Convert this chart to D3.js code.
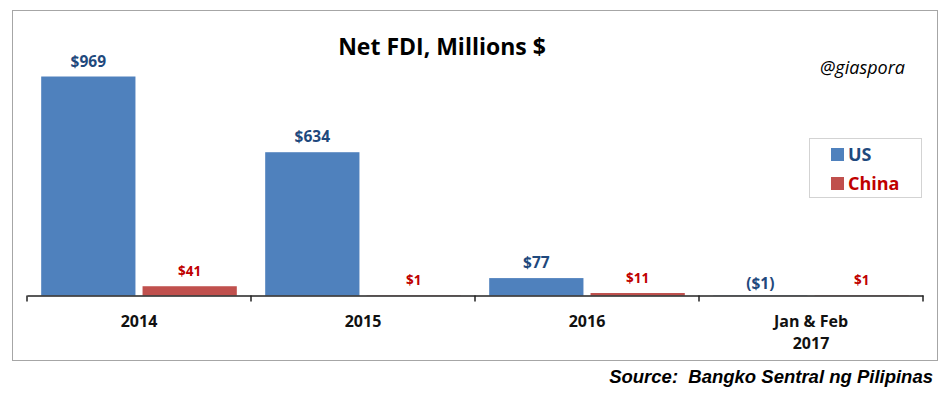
<!DOCTYPE html>
<html>
<head>
<meta charset="utf-8">
<script src="https://cdn.jsdelivr.net/npm/d3@7"></script>
<style>
  body { margin: 0; background: #fff; }
  svg { display: block; }
</style>
</head>
<body>
<svg width="945" height="394"></svg>
<script>
const categories = ["2014", "2015", "2016", "Jan & Feb\n2017"]
const seriesNames = ["US", "China"]
const usValues = [969, 634, 77, -1]
const chinaValues = [41, 1, 11, 1]

const colors = { US: "#4F81BD", China: "#C0504D" }
const labelColors = { US: "#1F497D", China: "#C00000" }

let svg = d3.select("svg")

// chart frame
svg.append("rect")
  .attr("x", 12.5).attr("y", 10.5)
  .attr("width", 925).attr("height", 350)
  .attr("fill", "#fff")
  .attr("stroke", "#a6a6a6")

const x = d3.scaleBand()
  .domain(categories)
  .range([27, 923])
  .paddingInner(0)
  .paddingOuter(0)

const xInner = d3.scaleBand()
  .domain(seriesNames)
  .range([0, x.bandwidth()])
  .paddingInner(0.07)
  .paddingOuter(0.14)

const y = d3.scaleLinear()
  .domain([0, 1000])
  .range([295.5, 69.5])

const rows = categories.map((c, i) => ({
  cat: c,
  values: [
    { name: "US", value: usValues[i] },
    { name: "China", value: chinaValues[i] }
  ]
}))

const fmt = v => v < 0 ? "($" + (-v) + ")" : "$" + v

let groups = svg.selectAll("g.cat")
  .data(rows)
  .enter()
  .append("g")
  .attr("class", "cat")
  .attr("transform", d => "translate(" + x(d.cat) + ",0)")

groups.selectAll("rect")
  .data(d => d.values)
  .enter()
  .append("rect")
  .attr("x", d => xInner(d.name))
  .attr("width", xInner.bandwidth())
  .attr("y", d => y(Math.max(d.value, 0)))
  .attr("height", d => Math.abs(y(d.value) - y(0)))
  .attr("fill", d => colors[d.name])

groups.selectAll("text.val")
  .data(d => d.values)
  .enter()
  .append("text")
  .attr("class", "val")
  .attr("x", d => xInner(d.name) + xInner.bandwidth() / 2)
  .attr("y", d => y(Math.max(d.value, 0)) - (d.value < 0 ? 7 : 10))
  .attr("text-anchor", "middle")
  .attr("font-family", "'Open Sans', sans-serif")
  .attr("font-weight", "bold")
  .attr("font-size", d => d.name == "US" ? 15.5 : 13.5)
  .attr("fill", d => labelColors[d.name])
  .text(d => fmt(d.value))

// x axis
let axis = svg.append("g")
  .attr("transform", "translate(0," + y(0) + ")")
  .call(d3.axisBottom(x).tickSize(0).tickFormat(""))
axis.select(".domain").attr("stroke", "#222").attr("stroke-width", 1.5)

let tickPos = categories.map(c => x(c)).concat([x.range()[1]])
svg.selectAll("line.tick")
  .data(tickPos)
  .enter()
  .append("line")
  .attr("x1", d => d).attr("x2", d => d)
  .attr("y1", y(0)).attr("y2", y(0) + 6)
  .attr("stroke", "#222")
  .attr("stroke-width", 1.5)

let catLabels = svg.selectAll("text.cat")
  .data(categories)
  .enter()
  .append("text")
  .attr("class", "cat")
  .attr("x", d => x(d) + x.bandwidth() / 2)
  .attr("y", 327)
  .attr("text-anchor", "middle")
  .attr("font-family", "'Open Sans', sans-serif")
  .attr("font-weight", "bold")
  .attr("font-size", 16)
  .attr("fill", "#111")
catLabels.selectAll("tspan")
  .data(d => d.split("\n"))
  .enter()
  .append("tspan")
  .attr("x", function () { return d3.select(this.parentNode).attr("x") })
  .attr("dy", (d, i) => i == 0 ? 0 : 22)
  .text(d => d)

// title
svg.append("text")
  .attr("x", 442).attr("y", 55)
  .attr("text-anchor", "middle")
  .attr("font-family", "'Open Sans', sans-serif")
  .attr("font-weight", "bold")
  .attr("font-size", 23)
  .attr("fill", "#000")
  .text("Net FDI, Millions $")

svg.append("text")
  .attr("x", 905).attr("y", 74)
  .attr("text-anchor", "end")
  .attr("font-family", "'Open Sans', sans-serif")
  .attr("font-style", "italic")
  .attr("font-size", 18)
  .attr("fill", "#000")
  .text("@giaspora")

// legend
let legend = svg.append("g")
legend.append("rect")
  .attr("x", 809.5).attr("y", 138.5)
  .attr("width", 112).attr("height", 59)
  .attr("fill", "#fff")
  .attr("stroke", "#a6a6a6")
  .attr("stroke-dasharray", "1,1")

let items = legend.selectAll("g.item")
  .data(seriesNames)
  .enter()
  .append("g")
  .attr("transform", (d, i) => "translate(831," + (148 + i * 29) + ")")
items.append("rect")
  .attr("width", 13).attr("height", 13)
  .attr("fill", d => colors[d])
items.append("text")
  .attr("x", 17).attr("y", 13)
  .attr("font-family", "'Open Sans', sans-serif")
  .attr("font-weight", "bold")
  .attr("font-size", 18)
  .attr("fill", d => labelColors[d])
  .text(d => d)

// source
svg.append("text")
  .attr("x", 933).attr("y", 383)
  .attr("text-anchor", "end")
  .attr("font-family", "'Liberation Sans', Arial, sans-serif")
  .attr("font-style", "italic")
  .attr("font-weight", "bold")
  .attr("font-size", 18.5)
  .attr("fill", "#000")
  .attr("xml:space", "preserve")
  .text("Source:  Bangko Sentral ng Pilipinas")
</script>
</body>
</html>
